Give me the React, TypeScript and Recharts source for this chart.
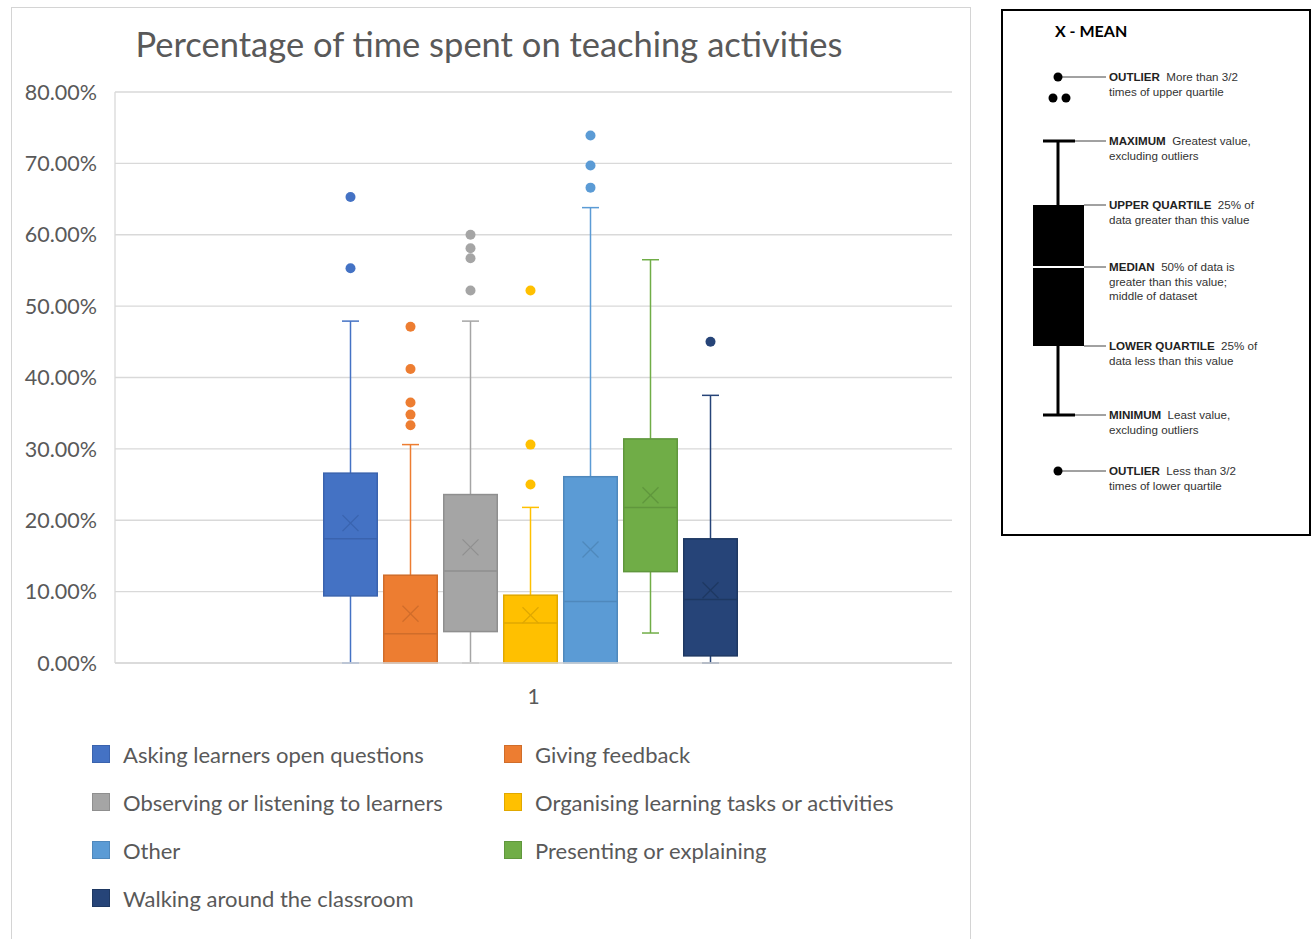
import React from "react";
import { ComposedChart, Bar, XAxis, YAxis, CartesianGrid } from "recharts";

const seriesNames = [
  "Asking learners open questions",
  "Giving feedback",
  "Observing or listening to learners",
  "Organising learning tasks or activities",
  "Other",
  "Presenting or explaining",
  "Walking around the classroom",
];
const fills = ["#4472C4", "#ED7D31", "#A5A5A5", "#FFC000", "#5B9BD5", "#70AD47", "#264478"];
const strokes = ["#3A63AE", "#D06D2A", "#8F8F8F", "#E0A800", "#4F88BC", "#60973D", "#1E3862"];

const mins = [0, 0, 0, 0, 0, 4.2, 0];
const q1s = [9.4, 0, 4.4, 0, 0, 12.8, 1.0];
const medians = [17.4, 4.1, 12.9, 5.6, 8.6, 21.8, 8.9];
const q3s = [26.6, 12.3, 23.6, 9.5, 26.1, 31.4, 17.4];
const maxs = [47.9, 30.6, 47.9, 21.8, 63.8, 56.5, 37.5];
const means = [19.6, 6.9, 16.2, 6.7, 15.9, 23.5, 10.2];
const outliers = [
  [65.3, 55.3],
  [47.1, 41.2, 36.5, 34.8, 33.3],
  [60.0, 58.1, 56.7, 52.2],
  [52.2, 30.6, 25.0],
  [73.9, 69.7, 66.6],
  [],
  [45.0],
];
const yTicks = [0, 10, 20, 30, 40, 50, 60, 70, 80];
const categories = ["1"];

const chartData = categories.map((c) => {
  const row: any = { name: c };
  seriesNames.forEach((_, i) => {
    row["s" + i] = [q1s[i], q3s[i]];
  });
  return row;
});

const FONT = "Lato, 'Open Sans', sans-serif";
const TEXT = "#595959";

function makeShape(i: number) {
  return (props: any) => {
    const { x, y, width, height } = props;
    if (x == null || y == null) return null;
    const top = Math.min(y, y + height);
    const bottom = Math.max(y, y + height);
    const lo = q1s[i];
    const hi = q3s[i];
    const toY = (v: number) => bottom - ((v - lo) / (hi - lo)) * (bottom - top);
    const cx = x + width / 2;
    const cap = 8.5;
    const col = fills[i];
    const dk = strokes[i];
    const my = toY(means[i]);
    return (
      <g>
        {maxs[i] > hi && (
          <g>
            <line x1={cx} x2={cx} y1={toY(maxs[i])} y2={top} stroke={col} strokeWidth={1.5} />
            <line x1={cx - cap} x2={cx + cap} y1={toY(maxs[i])} y2={toY(maxs[i])} stroke={col} strokeWidth={1.5} />
          </g>
        )}
        {mins[i] < lo && (
          <g>
            <line x1={cx} x2={cx} y1={bottom} y2={toY(mins[i])} stroke={col} strokeWidth={1.5} />
            <line x1={cx - cap} x2={cx + cap} y1={toY(mins[i])} y2={toY(mins[i])} stroke={col} strokeWidth={1.5} />
          </g>
        )}
        <rect x={x + 0.75} y={top} width={width - 1.5} height={bottom - top} fill={col} stroke={dk} strokeWidth={1.5} />
        <line x1={x + 0.75} x2={x + width - 0.75} y1={toY(medians[i])} y2={toY(medians[i])} stroke={dk} strokeWidth={1.5} />
        <line x1={cx - 8} x2={cx + 8} y1={my - 8} y2={my + 8} stroke={dk} strokeWidth={1.3} />
        <line x1={cx - 8} x2={cx + 8} y1={my + 8} y2={my - 8} stroke={dk} strokeWidth={1.3} />
        {outliers[i].map((v, k) => (
          <circle key={k} cx={cx} cy={toY(v)} r={5} fill={col} />
        ))}
      </g>
    );
  };
}

function ExplainPanel() {
  const lines: { y: number; bold: string; rest: string; extra: string[] }[] = [
    { y: 73, bold: "OUTLIER", rest: "  More than 3/2", extra: ["times of upper quartile"] },
    { y: 137, bold: "MAXIMUM", rest: "  Greatest value,", extra: ["excluding outliers"] },
    { y: 201, bold: "UPPER QUARTILE", rest: "  25% of", extra: ["data greater than this value"] },
    { y: 263, bold: "MEDIAN", rest: "  50% of data is", extra: ["greater than this value;", "middle of dataset"] },
    { y: 342, bold: "LOWER QUARTILE", rest: "  25% of", extra: ["data less than this value"] },
    { y: 411, bold: "MINIMUM", rest: "  Least value,", extra: ["excluding outliers"] },
    { y: 467, bold: "OUTLIER", rest: "  Less than 3/2", extra: ["times of lower quartile"] },
  ];
  const tf = "'Liberation Sans', Arial, sans-serif";
  return (
    <svg width={312} height={530} style={{ position: "absolute", left: 1000, top: 8 }}>
      <rect x={2} y={2} width={308} height={525} fill="#fff" stroke="#000" strokeWidth={2} />
      <text x={55} y={29} fontFamily={FONT} fontWeight={700} fontSize={16} fill="#000">X - MEAN</text>
      <g stroke="#444" strokeWidth={1}>
        <line x1={58} x2={106} y1={69} y2={69} />
        <line x1={75} x2={106} y1={133} y2={133} />
        <line x1={84} x2={106} y1={197} y2={197} />
        <line x1={84} x2={106} y1={259} y2={259} />
        <line x1={84} x2={106} y1={338} y2={338} />
        <line x1={75} x2={106} y1={407} y2={407} />
        <line x1={58} x2={106} y1={463} y2={463} />
      </g>
      <circle cx={58} cy={69} r={4.5} fill="#000" />
      <circle cx={53} cy={90} r={4.5} fill="#000" />
      <circle cx={66} cy={90} r={4.5} fill="#000" />
      <line x1={43} x2={75} y1={133} y2={133} stroke="#000" strokeWidth={3} />
      <line x1={58} x2={58} y1={133} y2={197} stroke="#000" strokeWidth={3} />
      <rect x={33} y={197} width={51} height={141} fill="#000" />
      <line x1={33} x2={84} y1={259} y2={259} stroke="#fff" strokeWidth={2} />
      <line x1={58} x2={58} y1={338} y2={407} stroke="#000" strokeWidth={3} />
      <line x1={43} x2={75} y1={407} y2={407} stroke="#000" strokeWidth={3} />
      <circle cx={58} cy={463} r={4.5} fill="#000" />
      {lines.map((l, k) => (
        <g key={k} fontFamily={tf} fontSize={11.6} fill="#333">
          <text x={109} y={l.y}>
            <tspan fontWeight={700} fill="#222">{l.bold}</tspan>
            <tspan xmlSpace="preserve">{l.rest}</tspan>
          </text>
          {l.extra.map((e, j) => (
            <text key={j} x={109} y={l.y + 14.5 * (j + 1)}>{e}</text>
          ))}
        </g>
      ))}
    </svg>
  );
}

function LegendBlock() {
  return (
    <div
      style={{
        position: "absolute",
        left: 92,
        top: 730,
        width: 880,
        display: "grid",
        gridTemplateColumns: "412px 460px",
        fontFamily: FONT,
        fontSize: 22,
        color: TEXT,
      }}
    >
      {seriesNames.map((n, i) => (
        <div key={i} style={{ display: "flex", alignItems: "center", height: 48 }}>
          <div
            style={{
              width: 16,
              height: 16,
              background: fills[i],
              border: `1px solid ${strokes[i]}`,
              marginRight: 13,
              flex: "none",
            }}
          />
          <span style={{ whiteSpace: "nowrap" }}>{n}</span>
        </div>
      ))}
    </div>
  );
}

export default function App() {
  return (
    <div style={{ position: "absolute", left: 0, top: 0, width: 1314, height: 939, background: "#fff", overflow: "hidden" }}>
      <div
        style={{
          position: "absolute",
          left: 11,
          top: 7,
          width: 960,
          height: 960,
          border: "1px solid #d4d4d4",
          boxSizing: "border-box",
        }}
      />
      <div
        style={{
          position: "absolute",
          left: 10,
          top: 24,
          width: 958,
          textAlign: "center",
          fontFamily: FONT,
          fontSize: 34.5,
          lineHeight: "40px",
          color: TEXT,
          whiteSpace: "nowrap",
        }}
      >
        Percentage of time spent on teaching activities
      </div>
      <div style={{ position: "absolute", left: 12, top: 8 }}>
        <ComposedChart
          width={958}
          height={931}
          data={chartData}
          margin={{ top: 84, right: 18, left: 0, bottom: 236 }}
          barSize={55}
          barGap={5}
        >
          <CartesianGrid vertical={false} stroke="#d9d9d9" strokeWidth={1.3} />
          <XAxis
            dataKey="name"
            height={40}
            padding={{ left: 0, right: 6 }}
            tickLine={false}
            axisLine={{ stroke: "#d9d9d9", strokeWidth: 1.3 }}
            tickMargin={20}
            tick={{ fill: TEXT, fontSize: 21, fontFamily: FONT, dx: 3 }}
          />
          <YAxis
            width={103}
            domain={[0, 80]}
            ticks={yTicks}
            interval={0}
            tickLine={false}
            axisLine={{ stroke: "#d9d9d9", strokeWidth: 1.3 }}
            tickMargin={12}
            tickFormatter={(v: number) => v.toFixed(2) + "%"}
            tick={{ fill: TEXT, fontSize: 21.5, fontFamily: FONT }}
          />
          {seriesNames.map((n, i) => (
            <Bar key={n} dataKey={"s" + i} name={n} fill={fills[i]} isAnimationActive={false} shape={makeShape(i)} />
          ))}
        </ComposedChart>
      </div>
      <LegendBlock />
      <ExplainPanel />
    </div>
  );
}
